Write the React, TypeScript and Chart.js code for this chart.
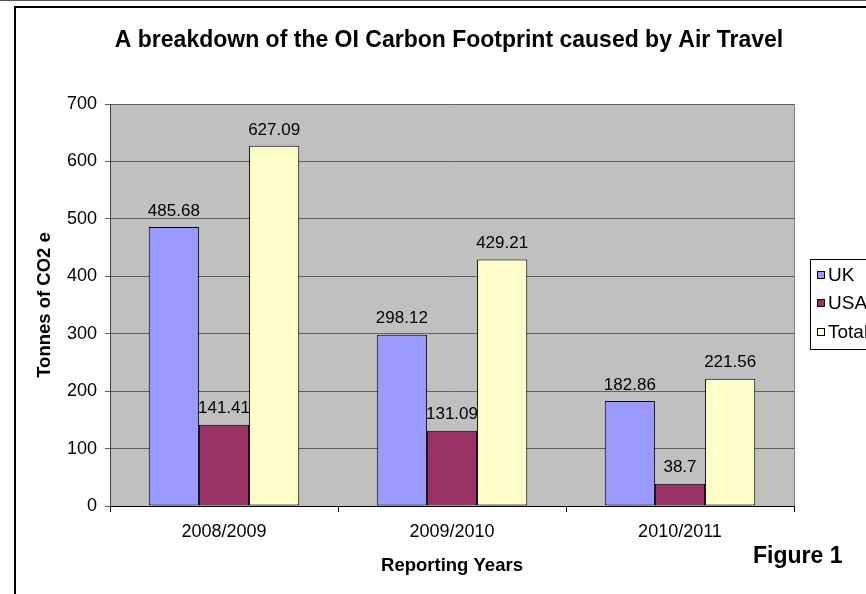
import React, { useEffect, useRef } from "react";
import { Chart, registerables } from "chart.js";

Chart.register(...registerables);

const chartTitle = "A breakdown of the OI Carbon Footprint caused by Air Travel";
const categories = ["2008/2009", "2009/2010", "2010/2011"];
const seriesNames = ["UK", "USA", "Total"];
const ukValues = [485.68, 298.12, 182.86];
const usaValues = [141.41, 131.09, 38.7];
const totalValues = [627.09, 429.21, 221.56];
const seriesColors = ["#9999FF", "#993366", "#FFFFCC"];
const yMin = 0;
const yMax = 700;
const yStep = 100;
const yTitle = "Tonnes of CO2 e";
const xTitle = "Reporting Years";
const figureLabel = "Figure 1";

const FONT = "'Liberation Sans', Arial, Helvetica, sans-serif";

const decorPlugin = {
  id: "decor",
  beforeDraw(chart: any) {
    const ctx = chart.ctx;
    const { left, top, right, bottom } = chart.chartArea;
    ctx.save();
    ctx.fillStyle = "#FFFFFF";
    ctx.fillRect(0, 0, chart.width, chart.height);
    ctx.fillStyle = "#C0C0C0";
    ctx.fillRect(left, top, right - left, bottom - top);
    ctx.restore();
  },
  beforeDatasetsDraw(chart: any) {
    const ctx = chart.ctx;
    const { top, right, bottom } = chart.chartArea;
    ctx.save();
    ctx.strokeStyle = "#808080";
    ctx.lineWidth = 1;
    ctx.beginPath();
    ctx.moveTo(Math.round(right) + 0.5, top);
    ctx.lineTo(Math.round(right) + 0.5, bottom);
    ctx.stroke();
    ctx.restore();
  },
  afterDatasetsDraw(chart: any) {
    const ctx = chart.ctx;
    ctx.save();
    ctx.fillStyle = "#000000";
    ctx.font = `17px ${FONT}`;
    ctx.textAlign = "center";
    ctx.textBaseline = "middle";
    chart.data.datasets.forEach((ds: any, i: number) => {
      const meta = chart.getDatasetMeta(i);
      meta.data.forEach((el: any, j: number) => {
        ctx.fillText(String(ds.data[j]), el.x, el.y - 16);
      });
    });
    ctx.restore();
  },
  afterDraw(chart: any) {
    const ctx = chart.ctx;
    const W = chart.width;
    const H = chart.height;
    ctx.save();
    // outer frame
    ctx.strokeStyle = "#555555";
    ctx.lineWidth = 1;
    ctx.beginPath();
    ctx.moveTo(0, 0.5);
    ctx.lineTo(W, 0.5);
    ctx.stroke();
    ctx.strokeStyle = "#000000";
    ctx.lineWidth = 2;
    ctx.beginPath();
    ctx.moveTo(15, H);
    ctx.lineTo(15, 7);
    ctx.lineTo(W, 7);
    ctx.stroke();

    // title
    ctx.fillStyle = "#000000";
    ctx.font = `bold 23px ${FONT}`;
    ctx.textAlign = "center";
    ctx.textBaseline = "middle";
    ctx.fillText(chartTitle, 449, 41);

    // figure label
    ctx.font = `bold 23px ${FONT}`;
    ctx.textAlign = "left";
    ctx.fillText(figureLabel, 753, 557);

    // legend
    const lx = 810;
    const ly = 259;
    ctx.fillStyle = "#FFFFFF";
    ctx.fillRect(lx, ly, 120, 90);
    ctx.strokeStyle = "#000000";
    ctx.lineWidth = 1;
    ctx.strokeRect(lx + 0.5, ly + 0.5, 120, 90);
    const rows = [275, 303, 332];
    chart.data.datasets.forEach((ds: any, i: number) => {
      const cy = rows[i];
      ctx.fillStyle = ds.backgroundColor;
      ctx.fillRect(817, cy - 4, 8, 8);
      ctx.strokeStyle = "#000000";
      ctx.strokeRect(817.5, cy - 3.5, 7, 7);
      ctx.fillStyle = "#000000";
      ctx.font = `19px ${FONT}`;
      ctx.textAlign = "left";
      ctx.textBaseline = "middle";
      ctx.fillText(ds.label, 828, cy + 1);
    });
    ctx.restore();
  },
};

export default function App() {
  const ref = useRef<HTMLCanvasElement | null>(null);
  useEffect(() => {
    const canvas = ref.current;
    if (!canvas) return;
    const values = [ukValues, usaValues, totalValues];
    const chart = new Chart(canvas, {
      type: "bar",
      data: {
        labels: categories,
        datasets: seriesNames.map((name, i) => ({
          label: name,
          data: values[i],
          backgroundColor: seriesColors[i],
          borderColor: "#000000",
          borderWidth: 1,
          borderSkipped: false,
          barPercentage: 1,
          categoryPercentage: 0.66,
        })),
      },
      options: {
        animation: false,
        responsive: false,
        devicePixelRatio: 1,
        events: [],
        layout: { padding: { left: 16, top: 104, right: 72, bottom: 0 } },
        plugins: {
          legend: { display: false },
          title: { display: false },
          tooltip: { enabled: false },
        },
        scales: {
          x: {
            grid: {
              display: true,
              drawOnChartArea: false,
              drawTicks: true,
              tickLength: 6,
              color: "#000000",
              offset: true,
            },
            border: { display: true, color: "#000000", width: 1 },
            ticks: {
              color: "#000000",
              font: { family: FONT, size: 18 },
              padding: 9,
            },
            title: {
              display: true,
              text: xTitle,
              color: "#000000",
              font: { family: FONT, size: 18.5, weight: "bold" },
              padding: { top: 0, bottom: 17 },
            },
            afterFit: (s: any) => {
              s.height = 88;
            },
          },
          y: {
            min: yMin,
            max: yMax,
            grid: {
              color: "#606060",
              lineWidth: 1,
              drawTicks: true,
              tickLength: 5,
            },
            border: { display: true, color: "#404040", width: 1 },
            ticks: {
              stepSize: yStep,
              color: "#000000",
              font: { family: FONT, size: 18 },
              padding: 8,
            },
            title: {
              display: true,
              text: yTitle,
              color: "#000000",
              font: { family: FONT, size: 18.5, weight: "bold" },
              padding: { top: 18, bottom: 0 },
            },
            afterFit: (s: any) => {
              s.width = 94;
            },
          },
        },
      },
      plugins: [decorPlugin],
    });
    return () => chart.destroy();
  }, []);
  return (
    <canvas
      ref={ref}
      width={866}
      height={594}
      style={{ position: "absolute", left: 0, top: 0, width: "866px", height: "594px", display: "block" }}
    />
  );
}
